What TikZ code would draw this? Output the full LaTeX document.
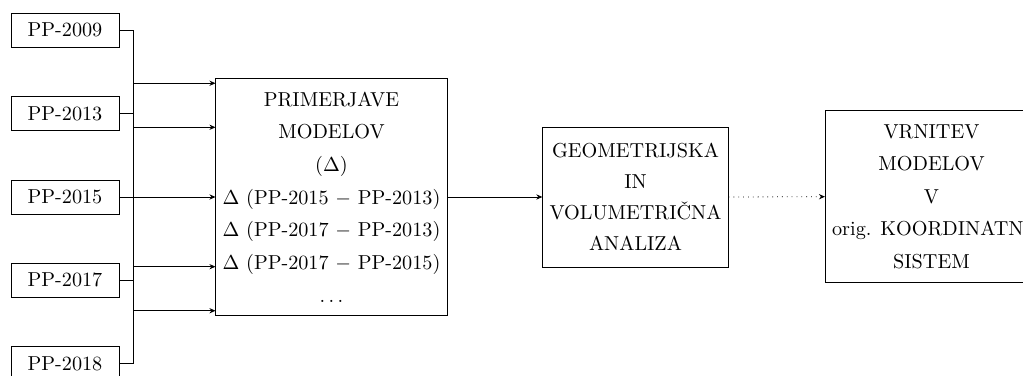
\documentclass[tikz,border=0pt]{standalone}
\usetikzlibrary{arrows.meta}

\tikzset{
  yearbox/.style={draw, minimum width=53.5pt, minimum height=16.8pt, inner sep=0pt},
  stagebox/.style={draw, align=center},
  feed/.style={-{Stealth[length=3pt,width=2.6pt]}}
}

\begin{document}
\begin{tikzpicture}[x=0.495pt,y=0.495pt,yscale=-1,xscale=1]
\useasboundingbox (0,0) rectangle (1023,376);

%Shape: Rectangle [years]
\node[yearbox] (p2009) at (65,30.3) {PP-2009};
\node[yearbox] (p2013) at (65,113.7) {PP-2013};
\node[yearbox] (p2015) at (65,197) {PP-2015};
\node[yearbox] (p2017) at (65,280.3) {PP-2017};
\node[yearbox] (p2018) at (65,363.7) {PP-2018};

%Shape: Rectangle [comparison]
\node[stagebox, minimum height=117.1pt] (primerjave) at (331.5,197) {PRIMERJAVE\\[4.2pt] MODELOV\\[4.2pt] ($\Delta$)\\[4.2pt]
  $\Delta$ (PP-2015 $-$ PP-2013)\\[4.2pt] $\Delta$ (PP-2017 $-$ PP-2013)\\[4.2pt] $\Delta$ (PP-2017 $-$ PP-2015)\\[4.2pt] $\dots$};

%Shape: Rectangle [analysis]
\node[stagebox, minimum width=90.6pt, minimum height=69.3pt] (analiza) at (635.5,197) {GEOMETRIJSKA\\[3.4pt] IN\\[3.4pt] VOLUMETRIČNA\\[3.4pt] ANALIZA};

%Shape: Rectangle [return]
\node[stagebox, minimum height=85.1pt, anchor=west] (vrnitev) at (825,196.7) {VRNITEV\\[4.1pt] MODELOV\\[4.1pt] V\\[4.1pt] orig. KOORDINATNI\\[4.1pt] SISTEM};

%Straight Lines [inputs]
\draw[feed] (p2009.east) -- ++(14.3,0) |- ([yshift=56.3pt]primerjave.west);
\draw[feed] (p2013.east) -- ++(14.3,0) |- ([yshift=34.5pt]primerjave.west);
\draw[feed] (p2015.east) -- (primerjave.west);
\draw[feed] (p2017.east) -- ++(14.3,0) |- ([yshift=-34.5pt]primerjave.west);
\draw[feed] (p2018.east) -- ++(14.3,0) |- ([yshift=-56.3pt]primerjave.west);

%Straight Lines [stages]
\draw[feed] (primerjave.east) -- (analiza.west);
\draw[feed, dotted] (analiza.east) -- (vrnitev.west);

\end{tikzpicture}
\end{document}
